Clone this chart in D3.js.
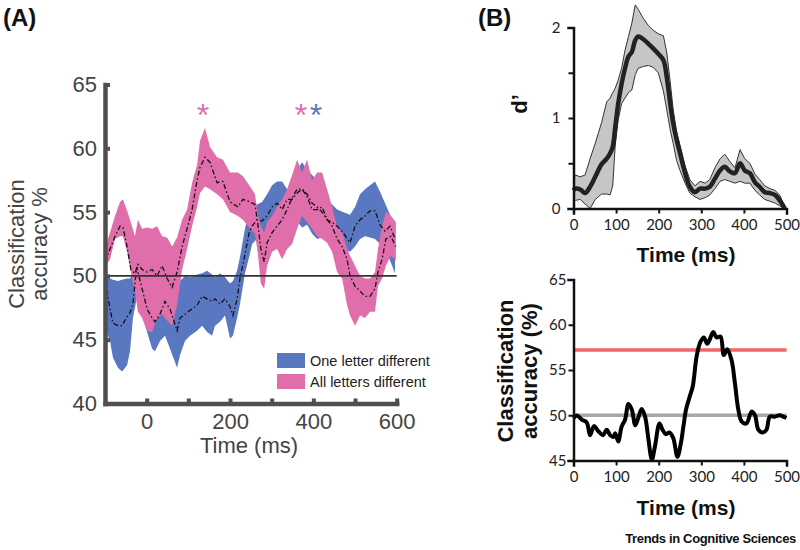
<!DOCTYPE html>
<html><head><meta charset="utf-8">
<script src="https://cdn.jsdelivr.net/npm/d3@7"></script>
<style>body{margin:0;background:#fff}svg{display:block}</style>
</head><body>
<svg id="chart" width="800" height="550"></svg>
<script>
// ---------- Panel A data ----------
const timeAll = [-100,-88,-76,-64,-57,-47,-38,-28,-21,-11,1,13,25,37,49,61,73,85,97,109,121,128,140,152,169,183,200,219,231,248,260,267,274,282,289,301,313,325,337,349,361,373,385,397,409,421,433,445,457,469,481,488,500,512,524,536,548,555,565,574,586,598];
const allUpper = [52.1,53.4,54.7,55.8,56.0,55.1,54.2,53.1,54.4,53.7,53.8,53.7,53.9,53.1,53.0,52.3,53.0,54.4,55.2,57.3,58.7,60.6,61.6,60.1,59.3,59.1,58.1,58.1,57.8,57.0,56.4,54.8,53.9,53.4,54.2,54.7,55.4,56.0,56.8,57.9,59.1,58.1,59.1,57.5,58.1,58.1,56.8,55.4,53.9,53.4,52.1,51.6,50.8,50.0,49.8,49.8,50.3,52.1,53.9,55.0,54.7,54.2];
const allMean = [51.1,52.1,53.1,53.9,53.8,52.3,50.5,50.2,50.9,50.5,50.3,50.5,50.0,50.8,49.8,49.1,50.3,52.3,53.7,55.2,57.5,58.5,59.3,58.9,57.3,57.4,55.8,55.4,56.0,55.8,55.6,54.0,52.1,51.1,52.6,53.4,53.9,54.4,55.2,56.1,56.8,56.8,56.2,55.2,55.2,55.4,54.4,53.9,52.9,52.3,51.3,50.0,49.2,48.8,48.4,48.4,49.0,50.3,51.3,52.9,53.1,52.3];
const allLower = [50.7,51.3,52.9,53.1,53.1,51.9,50.3,48.8,47.2,46.7,45.7,45.6,46.7,47.0,46.5,46.1,47.7,50.5,52.1,53.9,55.4,56.5,57.0,56.8,56.4,56.0,55.0,54.7,54.4,53.7,53.3,51.7,49.4,49.0,50.8,51.9,52.1,51.3,52.1,52.5,53.7,54.7,54.2,53.7,53.1,52.9,52.6,51.9,50.3,49.8,47.7,46.9,46.1,46.9,46.7,47.2,47.2,49.2,49.8,50.8,51.6,51.2];

const timeOne = [-100,-88,-81,-69,-59,-47,-40,-33,-24,-11,1,13,20,32,44,56,73,80,92,104,121,133,145,157,164,176,188,200,207,217,224,236,246,253,265,277,289,301,313,325,337,349,361,373,385,397,409,421,433,445,457,471,488,500,512,524,536,548,560,572,584,596];
const oneUpper = [50.0,49.8,49.7,49.6,49.7,49.8,49.8,50.2,51.2,50.5,49.4,49.0,48.8,49.4,49.8,49.5,49.0,49.6,50.0,49.9,50.1,50.2,50.4,50.1,49.9,50.2,49.9,49.4,49.6,50.4,51.5,53.7,55.2,55.4,55.6,55.8,56.4,57.1,57.4,57.4,56.8,57.4,58.3,58.9,58.3,57.9,57.5,56.8,56.0,55.6,55.2,55.0,54.8,55.4,56.4,56.8,57.1,57.4,56.6,55.7,54.8,54.2];
const oneMean = [49.8,47.4,46.3,46.1,46.1,46.8,47.1,47.8,50.7,49.0,47.4,46.7,46.4,47.0,48.0,47.4,45.7,46.7,47.0,47.3,47.7,48.4,48.2,48.0,48.2,47.8,48.2,47.6,46.9,48.2,49.8,51.7,53.4,53.9,54.4,54.3,54.7,55.4,55.7,55.2,56.0,56.0,56.5,56.8,56.4,55.7,55.4,55.0,54.4,54.2,53.9,53.4,52.6,53.9,54.4,54.7,55.1,55.1,54.0,53.5,53.9,52.9];
const oneLower = [45.9,44.9,43.6,42.8,42.5,43.0,44.1,46.7,48.2,47.0,45.6,44.3,44.1,44.9,45.3,44.3,42.8,43.8,44.9,45.3,45.7,46.1,45.6,45.3,46.1,46.4,46.9,45.1,45.3,46.7,47.8,50.2,51.5,52.5,52.9,53.0,53.2,53.3,53.5,53.8,54.0,55.0,54.3,53.8,54.0,53.3,52.9,53.0,53.3,52.9,52.5,52.1,51.9,52.3,52.9,53.1,53.0,52.9,52.5,52.1,51.2,50.2];

const xTicksA = [0,100,200,300,400,500,600];
const xLabelsA = [0,200,400,600];
const yTicksA = [40,45,50,55,60,65];
const sigTimes = [135,370,406];
const sigSeries = ["all","all","one"];
const legendLabels = ["One letter different","All letters different"];
const chanceA = 50;

// ---------- Panel B data ----------
const timeD = [0,4,16,27,39,51,66,78,86,92,98,105,113,121,129,137,145,152,164,176,187,199,211,219,227,234,242,250,262,273,285,297,309,320,332,344,355,367,379,391,402,414,426,437,449,461,473,484,496];
const dMean = [0.20,0.22,0.21,0.17,0.24,0.35,0.49,0.55,0.61,0.68,0.90,1.16,1.38,1.55,1.68,1.73,1.86,1.90,1.87,1.82,1.77,1.71,1.64,1.45,1.16,0.94,0.76,0.61,0.39,0.24,0.18,0.22,0.22,0.24,0.33,0.42,0.46,0.41,0.39,0.50,0.42,0.39,0.29,0.24,0.18,0.17,0.15,0.09,0.00];
const dUpper = [0.30,0.37,0.35,0.37,0.55,0.72,0.95,1.18,1.22,1.28,1.33,1.42,1.55,1.75,1.90,2.05,2.25,2.20,2.10,2.02,1.97,1.93,1.91,1.72,1.40,1.09,0.85,0.70,0.47,0.32,0.25,0.30,0.28,0.32,0.45,0.55,0.60,0.52,0.45,0.65,0.55,0.50,0.38,0.32,0.25,0.22,0.20,0.15,0.02];
const dLower = [0.10,0.09,0.10,0.05,0.00,0.10,0.16,0.16,0.15,0.25,0.70,0.98,1.16,1.22,1.28,1.31,1.48,1.55,1.57,1.58,1.56,1.50,1.30,1.09,0.87,0.72,0.53,0.42,0.28,0.17,0.13,0.10,0.12,0.15,0.22,0.30,0.32,0.30,0.28,0.30,0.28,0.28,0.20,0.15,0.10,0.08,0.06,0.03,0.00];

const timeAcc = [0,8,20,31,39,48,59,69,78,86,94,98,105,113,121,129,137,145,152,160,168,176,184,191,202,209,217,225,234,244,252,258,264,273,280,289,298,306,314,320,328,336,345,353,361,371,379,387,395,406,418,426,434,445,453,461,473,484,492,500];
const accVals = [49.67,49.97,49.5,49.2,47.8,48.8,48.2,47.8,48.4,47.8,47.6,48.0,47.1,48.75,49.5,51.25,50.6,48.9,49.7,50.7,49.85,47.3,45.1,46.5,49.1,48.4,47.9,48.1,47.5,45.4,46.9,48.75,50.6,52.1,53.2,56.5,58.1,58.6,57.9,58.4,59.2,58.6,58.7,56.65,57.3,56.1,53.5,50.6,49.3,49.1,50.4,50.0,48.4,48.1,48.4,49.85,49.85,50.0,49.85,49.7];
const xTicksB = [0,100,200,300,400,500];
const yTicksD = [0,0.5,1,1.5,2];
const yLabelsD = [0,1,2];
const yTicksAcc = [45,50,55,60,65];
const chanceB = 50;
const thresholdB = 57.2;

// ---------- drawing ----------
const svg = d3.select("#chart");
const colOne = "#5a78c2", colAll = "#e06eaa";
const fontA = "'Liberation Sans', Arial, Helvetica, sans-serif";
const fontB = "Lato, 'Noto Sans', sans-serif";

const xA = d3.scaleLinear().domain([-100,600]).range([105,396.7]);
const yA = d3.scaleLinear().domain([40,65]).range([403.5,84.5]);

function band(times, lo, hi, x, y){
  const data = times.map((t,i)=>({t, lo:lo[i], hi:hi[i]}));
  return {data, area: d3.area().x(d=>x(d.t)).y0(d=>y(d.lo)).y1(d=>y(d.hi))};
}
const bOne = band(timeOne, oneLower, oneUpper, xA, yA);
const bAll = band(timeAll, allLower, allUpper, xA, yA);
svg.append("path").datum(bOne.data).attr("d", bOne.area).attr("fill", colOne);
svg.append("path").datum(bAll.data).attr("d", bAll.area).attr("fill", colAll);

const lineA = d3.line().x(d=>xA(d[0])).y(d=>yA(d[1]));
[[timeOne, oneMean],[timeAll, allMean]].forEach(([ts, ms])=>{
  svg.append("path").datum(ts.map((t,i)=>[t, ms[i]])).attr("d", lineA)
    .attr("fill","none").attr("stroke","#111").attr("stroke-width",1.3)
    .attr("stroke-dasharray","5,2.5,1.5,2.5");
});
// chance line
svg.append("line").attr("x1", xA(-100)).attr("x2", xA(600))
  .attr("y1", yA(chanceA)).attr("y2", yA(chanceA))
  .attr("stroke","#333").attr("stroke-width",1.8);

// axes A
function styleA(g){
  g.attr("font-family", fontA).attr("font-size", 22);
  g.select(".domain").attr("stroke","#4f4f4f").attr("stroke-width",4.5).attr("stroke-linecap","square");
  g.selectAll(".tick line").attr("stroke","#4f4f4f").attr("stroke-width",4);
  g.selectAll(".tick text").attr("fill","#444");
}
svg.append("g").attr("transform",`translate(${xA(-100)},0)`)
  .call(d3.axisLeft(yA).tickValues(yTicksA).tickSizeInner(-5).tickSizeOuter(0).tickPadding(8))
  .call(styleA);
svg.append("g").attr("transform",`translate(0,${yA(40)})`)
  .call(d3.axisBottom(xA).tickValues(xTicksA).tickSizeInner(-5).tickSizeOuter(0).tickPadding(10)
    .tickFormat(d => xLabelsA.includes(d) ? d : ""))
  .call(styleA);

svg.append("text").attr("x", 249).attr("y", 453).attr("text-anchor","middle")
  .attr("font-family", fontA).attr("font-size", 22).attr("fill","#444").text("Time (ms)");
const ylabA = svg.append("text").attr("transform","translate(0,244) rotate(-90)")
  .attr("text-anchor","middle").attr("font-family", fontA).attr("font-size", 22).attr("fill","#444");
ylabA.append("tspan").attr("x",0).attr("y",24).text("Classification");
ylabA.append("tspan").attr("x",0).attr("y",47).text("accuracy %");

// significance asterisks
svg.selectAll("text.sig").data(sigTimes).enter().append("text").attr("class","sig")
  .attr("x", d=>xA(d)).attr("y", 126).attr("text-anchor","middle")
  .attr("font-family", fontA).attr("font-size", 32)
  .attr("fill", (d,i)=> sigSeries[i]==="one" ? colOne : colAll).text("*");

// legend
const legCols = [colOne, colAll];
legendLabels.forEach((lab,i)=>{
  svg.append("rect").attr("x",277).attr("y",353 + i*21).attr("width",28).attr("height",15).attr("fill",legCols[i]);
  svg.append("text").attr("x",310).attr("y",366 + i*21).attr("font-family",fontA)
    .attr("font-size",14.5).attr("fill","#222").text(lab);
});

// panel labels
svg.append("text").attr("x",3).attr("y",26).attr("font-family",fontA).attr("font-weight","bold")
  .attr("font-size",24).attr("fill","#111").text("(A)");
svg.append("text").attr("x",478).attr("y",26).attr("font-family",fontA).attr("font-weight","bold")
  .attr("font-size",24).attr("fill","#111").text("(B)");

// ---------- Panel B top ----------
const xB = d3.scaleLinear().domain([0,500]).range([573.5,786.5]);
const yD = d3.scaleLinear().domain([0,2]).range([208.5,27.5]);
const bD = band(timeD, dLower, dUpper, xB, yD);
svg.append("path").datum(bD.data).attr("d", bD.area.curve(d3.curveLinear))
  .attr("fill","#c6c6c6").attr("stroke","#333").attr("stroke-width",1);
svg.append("path").datum(timeD.map((t,i)=>[t,dMean[i]]))
  .attr("d", d3.line().x(d=>xB(d[0])).y(d=>yD(d[1])).curve(d3.curveCatmullRom))
  .attr("fill","none").attr("stroke","#222").attr("stroke-width",4.5).attr("stroke-linejoin","round");

function styleB(g){
  g.attr("font-family", fontB).attr("font-size", 15);
  g.select(".domain").attr("stroke","#111").attr("stroke-width",2.5).attr("stroke-linecap","square");
  g.selectAll(".tick line").attr("stroke","#111").attr("stroke-width",2);
  g.selectAll(".tick text").attr("fill","#222");
}
svg.append("g").attr("transform",`translate(${xB(0)},0)`)
  .call(d3.axisLeft(yD).tickValues(yTicksD).tickSize(5).tickPadding(8)
    .tickFormat(d => yLabelsD.includes(d) ? d : ""))
  .call(styleB);
svg.append("g").attr("transform",`translate(0,${yD(0)})`)
  .call(d3.axisBottom(xB).tickValues(xTicksB).tickSize(5).tickPadding(6))
  .call(styleB);
svg.append("text").attr("x",686).attr("y",262).attr("text-anchor","middle")
  .attr("font-family",fontA).attr("font-weight","bold").attr("font-size",21).attr("fill","#111").text("Time (ms)");
svg.append("text").attr("transform","translate(527,104) rotate(-90)").attr("text-anchor","middle")
  .attr("font-family",fontA).attr("font-weight","bold").attr("font-size",22).attr("fill","#111").text("d’");

// ---------- Panel B bottom ----------
const yAcc = d3.scaleLinear().domain([45,65]).range([460.5,279.5]);
svg.append("line").attr("x1",xB(0)).attr("x2",xB(500)).attr("y1",yAcc(chanceB)).attr("y2",yAcc(chanceB))
  .attr("stroke","#a6a6a6").attr("stroke-width",3.5);
svg.append("line").attr("x1",xB(0)).attr("x2",xB(500)).attr("y1",yAcc(thresholdB)).attr("y2",yAcc(thresholdB))
  .attr("stroke","#f26464").attr("stroke-width",3.5);
svg.append("path").datum(timeAcc.map((t,i)=>[t,accVals[i]]))
  .attr("d", d3.line().x(d=>xB(d[0])).y(d=>yAcc(d[1])).curve(d3.curveCatmullRom))
  .attr("fill","none").attr("stroke","#000").attr("stroke-width",4).attr("stroke-linejoin","round");
svg.append("g").attr("transform",`translate(${xB(0)},0)`)
  .call(d3.axisLeft(yAcc).tickValues(yTicksAcc).tickSize(5).tickPadding(2))
  .call(styleB);
svg.append("g").attr("transform",`translate(0,${yAcc(45)})`)
  .call(d3.axisBottom(xB).tickValues(xTicksB).tickSize(5).tickPadding(6))
  .call(styleB);
svg.append("text").attr("x",686).attr("y",515).attr("text-anchor","middle")
  .attr("font-family",fontA).attr("font-weight","bold").attr("font-size",21).attr("fill","#111").text("Time (ms)");
const ylabB = svg.append("text").attr("transform","translate(0,371) rotate(-90)")
  .attr("text-anchor","middle").attr("font-family",fontA).attr("font-weight","bold").attr("font-size",22).attr("fill","#111");
ylabB.append("tspan").attr("x",0).attr("y",513).text("Classification");
ylabB.append("tspan").attr("x",0).attr("y",537).text("accuracy (%)");

svg.append("text").attr("x",796).attr("y",543).attr("text-anchor","end")
  .attr("font-family",fontA).attr("font-weight","bold").attr("font-size",13)
  .attr("letter-spacing","-0.35").attr("fill","#111")
  .text("Trends in Cognitive Sciences");
</script>
</body></html>
